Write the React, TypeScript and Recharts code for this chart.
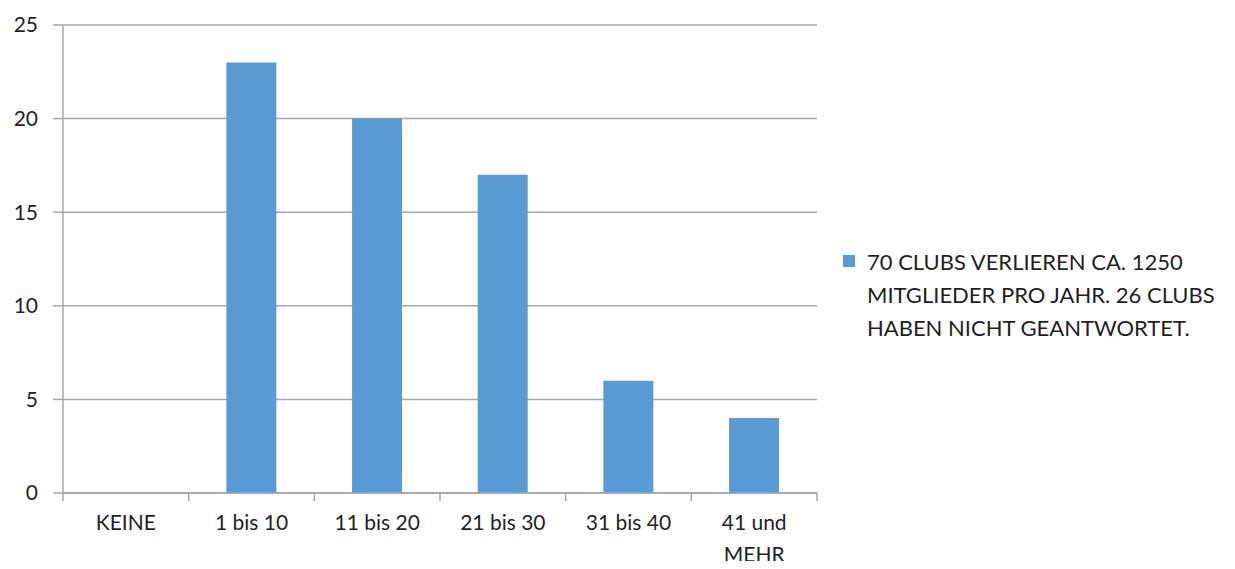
import { BarChart, Bar, XAxis, YAxis, CartesianGrid, Legend } from 'recharts';

const categories = ['KEINE', '1 bis 10', '11 bis 20', '21 bis 30', '31 bis 40', '41 und\nMEHR'];
const values = [0, 23, 20, 17, 6, 4];
const yTicks = [0, 5, 10, 15, 20, 25];
const seriesNameLines = ['70 CLUBS VERLIEREN CA. 1250', 'MITGLIEDER PRO JAHR. 26 CLUBS', 'HABEN NICHT GEANTWORTET.'];

const data = categories.map((c, i) => ({ name: c, value: values[i] }));

const W = 1235;
const H = 569;
const margin = { top: 25, right: 418, left: 0, bottom: 0 };
const yAxisWidth = 63;
const plotWidth = W - margin.left - margin.right - yAxisWidth;
const band = plotWidth / categories.length;

const FONT = 'Lato, "Open Sans", sans-serif';
const TEXT = '#1f1f1f';
const GRID = '#a6a6a6';
const BAR = '#5b9bd5';

const CategoryTick = (props: any) => {
  const { x, y, payload, index } = props;
  const lines = String(payload.value).split('\n');
  const left = x - band / 2;
  return (
    <g>
      <line x1={left} y1={y} x2={left} y2={y + 8} stroke={GRID} strokeWidth={1.5} />
      {index === categories.length - 1 && (
        <line x1={x + band / 2} y1={y} x2={x + band / 2} y2={y + 8} stroke={GRID} strokeWidth={1.5} />
      )}
      <text x={x} y={y + 37} textAnchor="middle" fill={TEXT} fontSize={21} fontFamily={FONT}>
        {lines.map((l, i) => (
          <tspan key={i} x={x} dy={i === 0 ? 0 : 32}>{l}</tspan>
        ))}
      </text>
    </g>
  );
};

const LegendContent = () => (
  <div style={{ display: 'flex', fontFamily: FONT, fontSize: 22, color: TEXT, lineHeight: '33px' }}>
    <div style={{ width: 12, height: 12, background: BAR, marginTop: 10, marginRight: 12, flex: 'none' }} />
    <div style={{ whiteSpace: 'nowrap' }}>
      {seriesNameLines.map((l, i) => (
        <div key={i}>{l}</div>
      ))}
    </div>
  </div>
);

const App = () => {
  return (
    <div style={{ margin: -8, width: W, height: H, background: '#fff' }}>
      <BarChart width={W} height={H} data={data} margin={margin} barCategoryGap="30%">
        <CartesianGrid vertical={false} stroke={GRID} strokeWidth={1.5} />
        <XAxis
          dataKey="name"
          interval={0}
          height={76}
          tickSize={0}
          tickMargin={0}
          tickLine={false}
          axisLine={{ stroke: GRID, strokeWidth: 1.5 }}
          tick={<CategoryTick />}
        />
        <YAxis
          width={yAxisWidth}
          domain={[0, 25]}
          ticks={yTicks}
          interval={0}
          tickSize={10}
          tickMargin={15}
          tickLine={{ stroke: GRID, strokeWidth: 1.5 }}
          axisLine={{ stroke: GRID, strokeWidth: 1.5 }}
          tick={{ fill: TEXT, fontSize: 21, fontFamily: FONT }}
        />
        <Legend
          layout="horizontal"
          verticalAlign="middle"
          align="center"
          content={<LegendContent />}
          wrapperStyle={{ left: 843, top: 245, width: 390, height: 110 }}
        />
        <Bar
          dataKey="value"
          name={seriesNameLines.join(' ')}
          fill={BAR}
          isAnimationActive={false}
        />
      </BarChart>
    </div>
  );
};

export default App;
